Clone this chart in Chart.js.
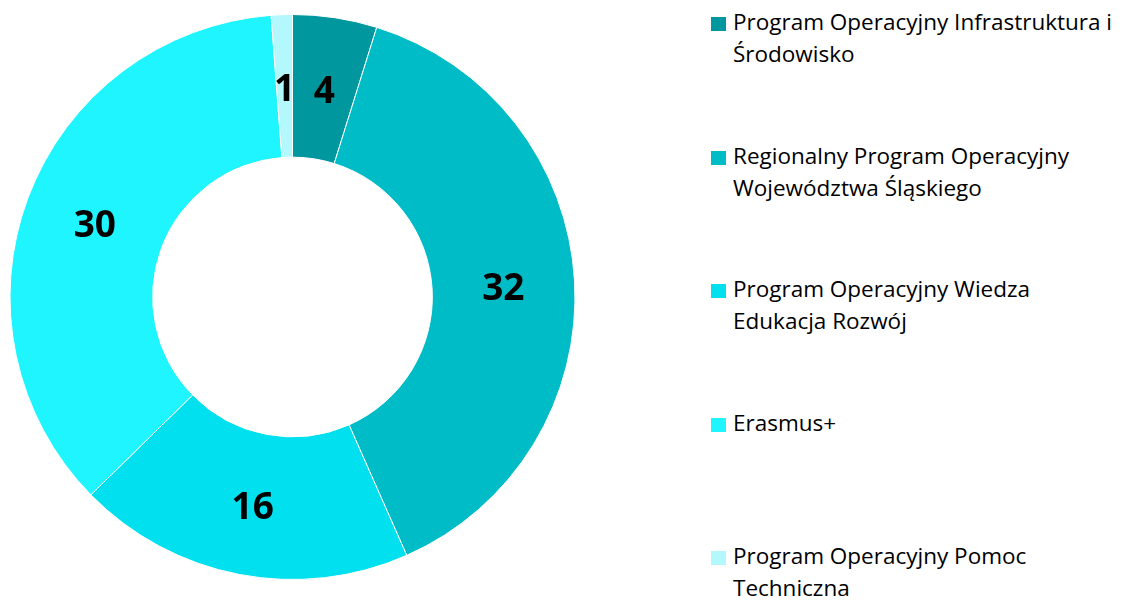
<!DOCTYPE html>
<html>
<head>
<meta charset="utf-8">
<script src="https://cdn.jsdelivr.net/npm/chart.js@4/dist/chart.umd.min.js"></script>
<style>
  html, body { margin: 0; padding: 0; background: #fff; }
  #wrap { position: relative; width: 1125px; height: 601px; }
  #chartBox { position: absolute; left: 0; top: 0; width: 585px; height: 601px; }
  #legend { position: absolute; left: 711px; top: 6px; width: 414px; font-family: "Open Sans", sans-serif; font-size: 22.5px; color: #000; }
  .item { position: relative; height: 133.5px; padding-left: 22px; line-height: 32px; white-space: nowrap; }
  .item span.box { position: absolute; left: 0; top: 11px; width: 15px; height: 14px; }
</style>
</head>
<body>
<div id="wrap">
  <div id="chartBox"><canvas id="progChart"></canvas></div>
  <div id="legend"></div>
</div>
<script>
var progName = [
    ['Program Operacyjny Infrastruktura i', 'Środowisko'],
    ['Regionalny Program Operacyjny', 'Województwa Śląskiego'],
    ['Program Operacyjny Wiedza', 'Edukacja Rozwój'],
    ['Erasmus+'],
    ['Program Operacyjny Pomoc', 'Techniczna']
];
var progCount = [4, 32, 16, 30, 1];
var coloR = ['#00979f', '#00bcc6', '#00e0ef', '#1ff5ff', '#b2f8fc'];

// values written into the slices
var sliceLabels = {
    id: 'sliceLabels',
    afterDatasetsDraw: function (chart) {
        var ctx = chart.ctx;
        var meta = chart.getDatasetMeta(0);
        ctx.save();
        ctx.font = 'bold 37px "Open Sans", sans-serif';
        ctx.fillStyle = '#000';
        ctx.textAlign = 'center';
        ctx.textBaseline = 'middle';
        meta.data.forEach(function (arc, i) {
            var p = arc.tooltipPosition();
            ctx.fillText(String(chart.data.datasets[0].data[i]), p.x, p.y + 4);
        });
        ctx.restore();
    }
};

function buildLegend() {
    var box = document.getElementById('legend');
    for (var i = 0; i < progName.length; i++) {
        var d = document.createElement('div');
        d.className = 'item';
        var sq = document.createElement('span');
        sq.className = 'box';
        sq.style.background = coloR[i];
        d.appendChild(sq);
        d.appendChild(document.createTextNode(progName[i][0]));
        for (var j = 1; j < progName[i].length; j++) {
            d.appendChild(document.createElement('br'));
            d.appendChild(document.createTextNode(progName[i][j]));
        }
        box.appendChild(d);
    }
}

var canvas = document.getElementById('progChart').getContext('2d');
new Chart(canvas, {
    type: 'doughnut',
    data: {
        labels: progName.map(function (n) { return n.join(' '); }),
        datasets: [{
            data: progCount,
            backgroundColor: coloR,
            borderColor: '#ffffff',
            borderWidth: 1
        }]
    },
    options: {
        responsive: true,
        maintainAspectRatio: false,
        animation: false,
        cutout: '49.5%',
        layout: { padding: { top: 14, bottom: 21, left: 9, right: 9 } },
        plugins: {
            legend: { display: false },
            tooltip: { enabled: false }
        }
    },
    plugins: [sliceLabels]
});
buildLegend();
</script>
</body>
</html>
